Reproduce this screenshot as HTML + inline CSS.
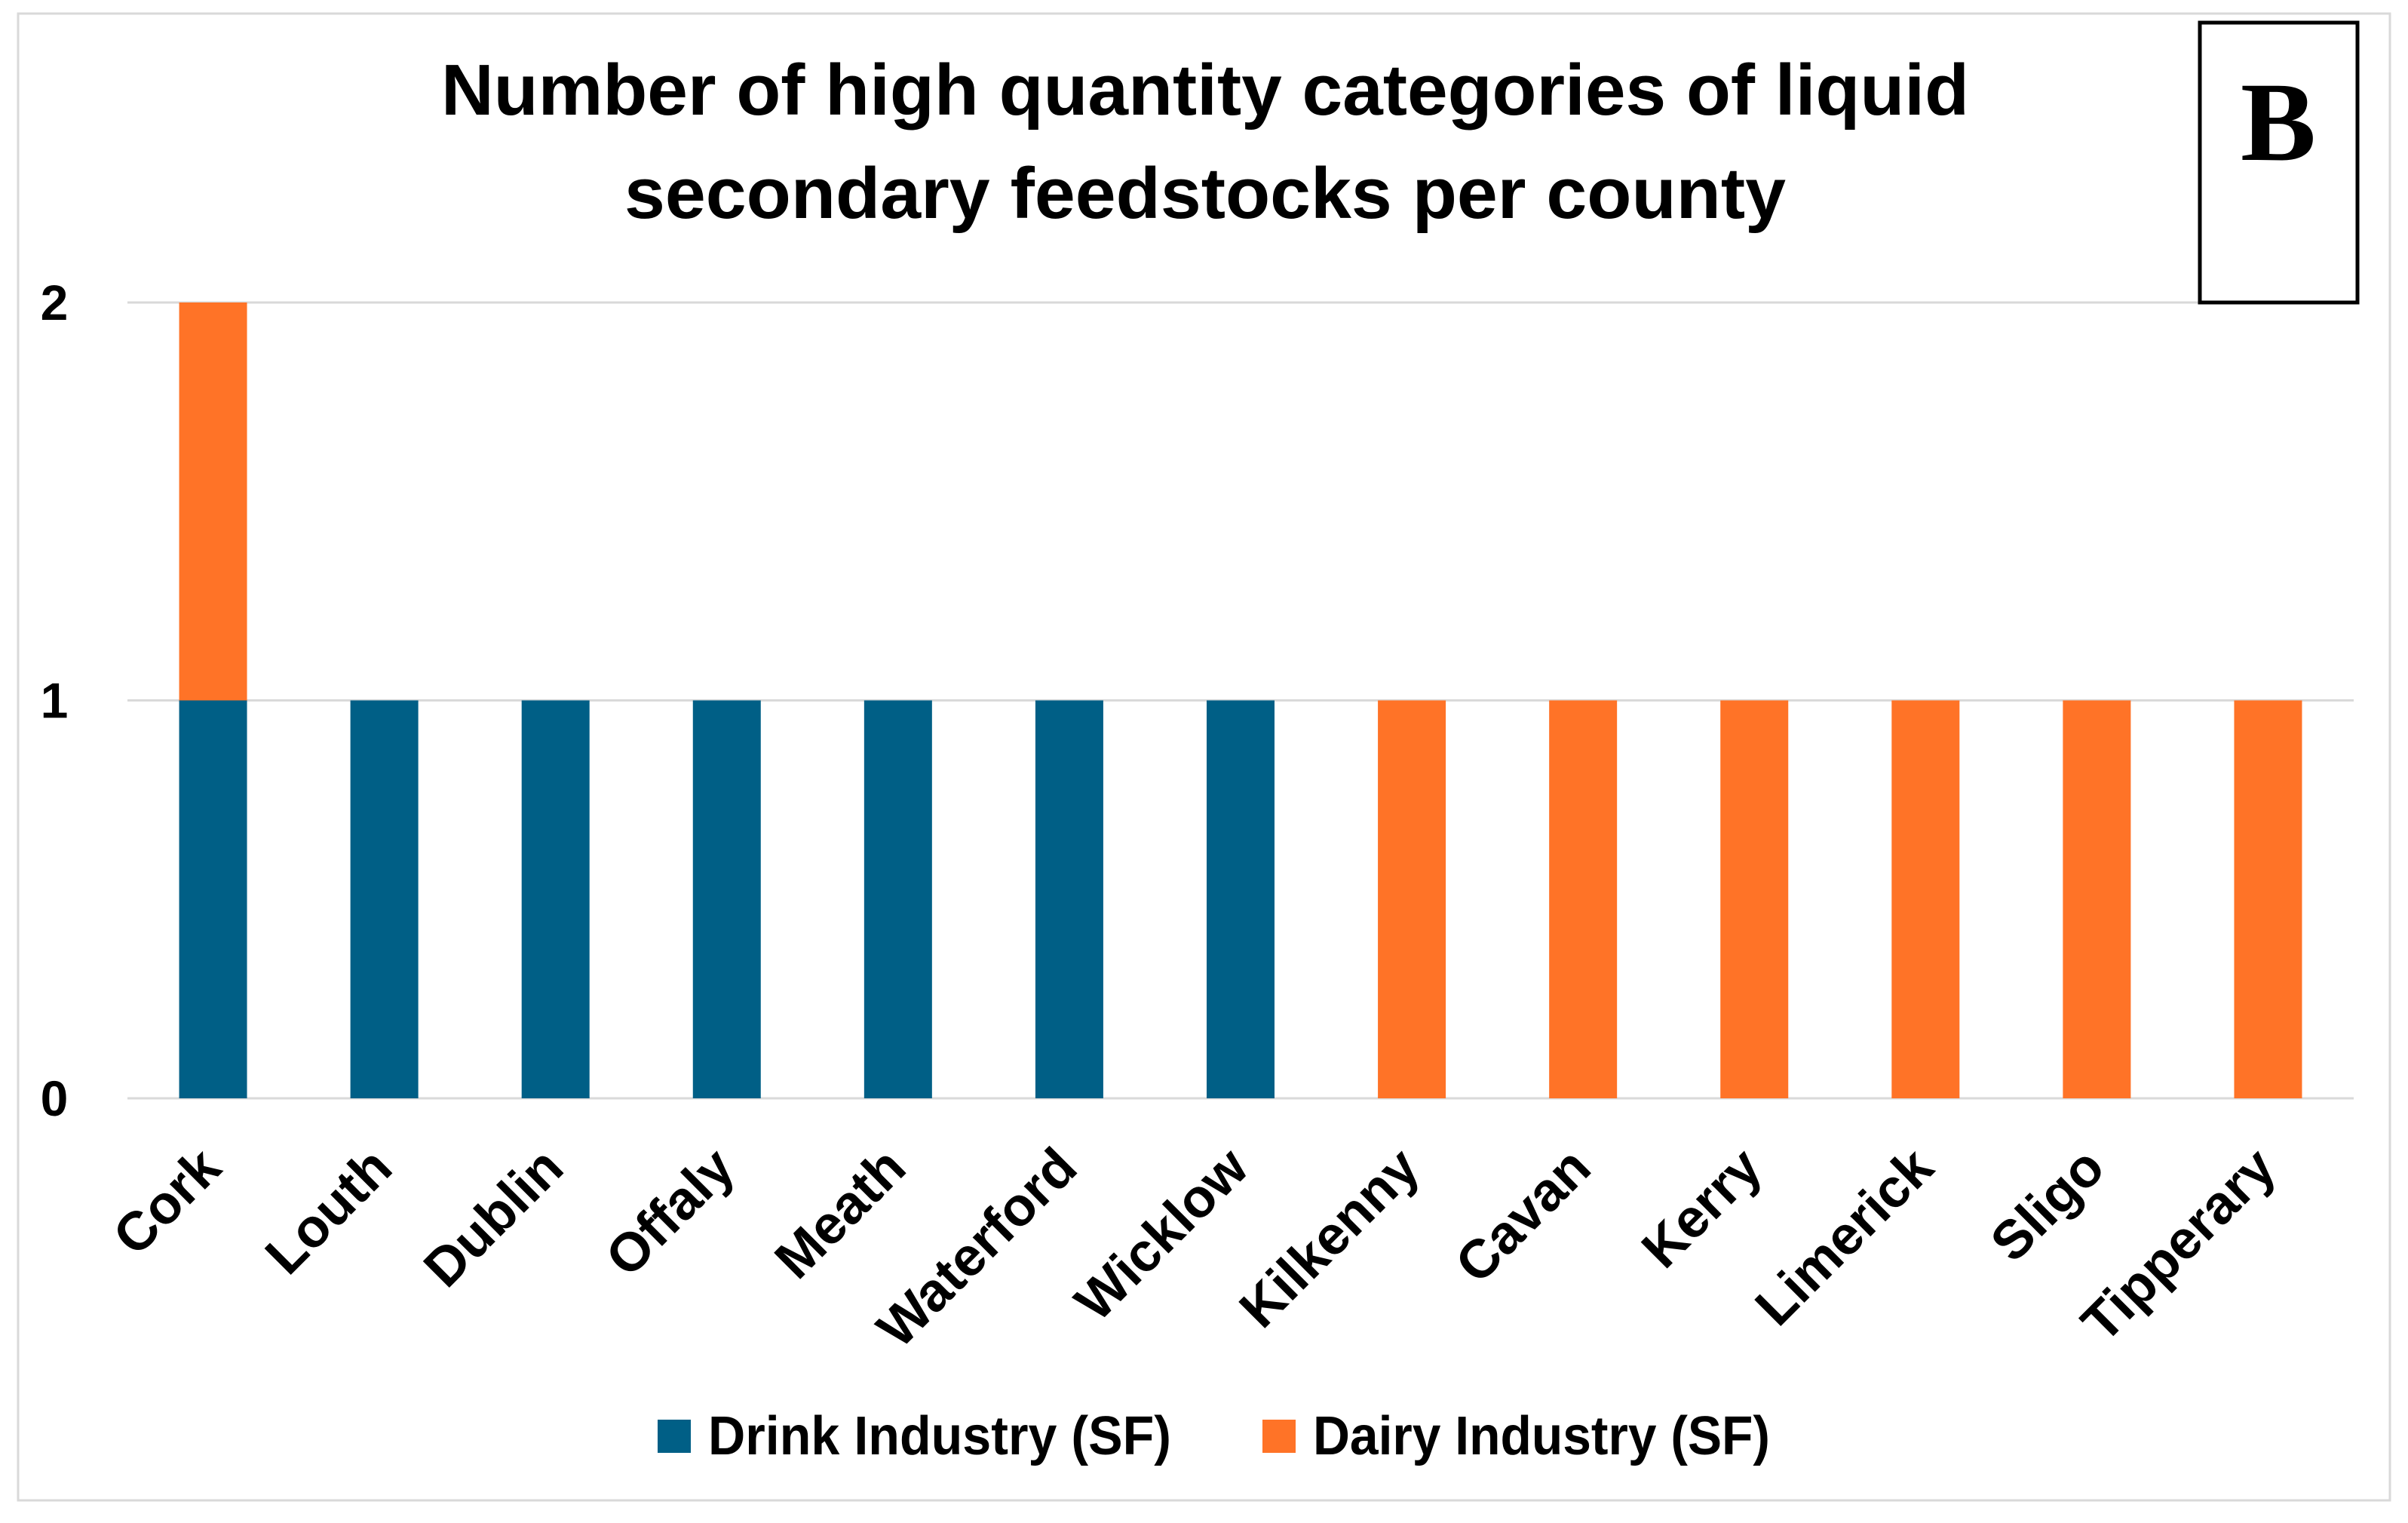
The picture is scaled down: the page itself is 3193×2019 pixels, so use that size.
<!DOCTYPE html>
<html><head><meta charset="utf-8"><style>
html,body{margin:0;padding:0;background:#fff;}
svg{display:block;}
text{font-family:"Liberation Sans",sans-serif;font-weight:bold;fill:#000;}
</style></head><body>
<svg id="chart" width="3193" height="2019" viewBox="0 0 3193 2019" xmlns="http://www.w3.org/2000/svg">
<rect x="24" y="18" width="3145" height="1971" fill="#fff" stroke="#d9d9d9" stroke-width="3"/>
<g id="grid"></g>
<g id="bars"></g>
<g id="yticks"></g>
<g id="xticks"></g>
<text x="1598" y="152" font-size="96" text-anchor="middle" textLength="2026" lengthAdjust="spacingAndGlyphs">Number of high quantity categories of liquid</text>
<text x="1598" y="289" font-size="96" text-anchor="middle" textLength="1540" lengthAdjust="spacingAndGlyphs">secondary feedstocks per county</text>
<rect x="2917" y="30" width="209" height="371" fill="#fff" stroke="#000" stroke-width="5"/>
<text x="3021" y="212" font-size="150" text-anchor="middle" style="font-family:'Liberation Serif',serif">B</text>
<g>
<rect x="872" y="1882" width="44" height="44" fill="#005F86"/>
<text x="939" y="1928" font-size="72" textLength="614" lengthAdjust="spacingAndGlyphs">Drink Industry (SF)</text>
<rect x="1674" y="1882" width="44" height="44" fill="#FF7327"/>
<text x="1741" y="1928" font-size="72" textLength="606" lengthAdjust="spacingAndGlyphs">Dairy Industry (SF)</text>
</g>
</svg>
<script>
const categories = ["Cork","Louth","Dublin","Offaly","Meath","Waterford","Wicklow","Kilkenny","Cavan","Kerry","Limerick","Sligo","Tipperary"];
const drinkValues = [1,1,1,1,1,1,1,0,0,0,0,0,0];
const dairyValues = [1,0,0,0,0,0,0,1,1,1,1,1,1];
const yTicks = [0,1,2];

const NS = "http://www.w3.org/2000/svg";
const plotL = 169, plotR = 3121, plotT = 401, plotB = 1456, yMax = 2;
const step = (plotR - plotL) / categories.length;
const barW = 90;
function yScale(v){ return plotB - (v / yMax) * (plotB - plotT); }
function xCenter(i){ return plotL + step * (i + 0.5); }
function mk(tag, attrs, parent){
  const el = document.createElementNS(NS, tag);
  for (const k in attrs) el.setAttribute(k, attrs[k]);
  parent.appendChild(el);
  return el;
}
const grid = document.getElementById('grid');
const yt = document.getElementById('yticks');
yTicks.forEach(function(t){
  const y = yScale(t);
  const ln = mk('line', {x1: plotL, x2: plotR, y1: y, y2: y, stroke: '#d9d9d9', 'stroke-width': 3}, grid);
  
  
  const tx = mk('text', {x: 72, y: y + 23, 'font-size': 66, 'text-anchor': 'middle'}, yt);
  tx.textContent = String(t);
  
  
});
const bars = document.getElementById('bars');
const xt = document.getElementById('xticks');
categories.forEach(function(c, i){
  const cx = xCenter(i);
  let base = 0;
  if (drinkValues[i] > 0) {
    const r = mk('rect', {x: cx - barW/2, y: yScale(base + drinkValues[i]), width: barW, height: yScale(base) - yScale(base + drinkValues[i]), fill: '#005F86'}, bars);
    
    
    base += drinkValues[i];
  }
  if (dairyValues[i] > 0) {
    const r = mk('rect', {x: cx - barW/2, y: yScale(base + dairyValues[i]), width: barW, height: yScale(base) - yScale(base + dairyValues[i]), fill: '#FF7327'}, bars);
    
    
    base += dairyValues[i];
  }
  const lx = cx + 14, ly = plotB + 96;
  const t = mk('text', {x: lx, y: ly, 'font-size': 72, 'text-anchor': 'end', transform: 'rotate(-45 ' + lx + ' ' + ly + ')'}, xt);
  t.textContent = c;
  
  
});
</script>
</body></html>
